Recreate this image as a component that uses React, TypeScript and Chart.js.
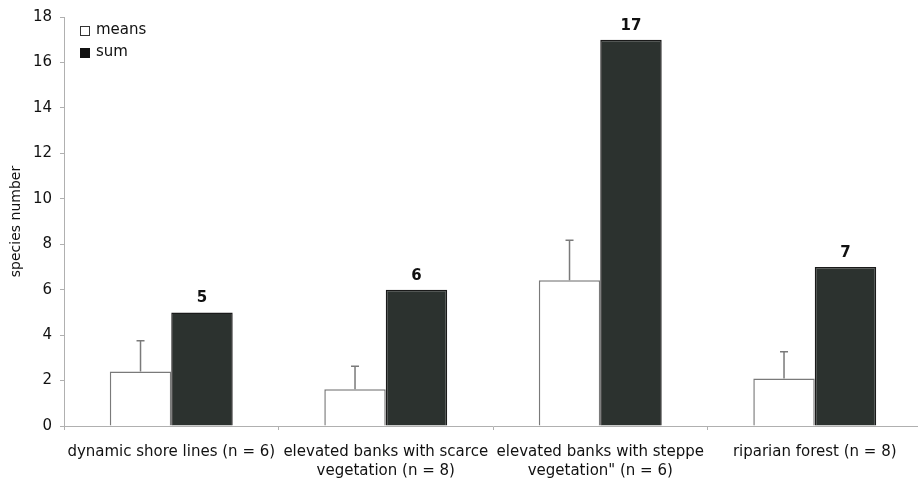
import React, { useEffect, useRef } from "react";
import { Chart, registerables } from "chart.js";

Chart.register(...registerables);

const categories: string[][] = [
  ["dynamic shore lines (n = 6)"],
  ["elevated banks with scarce", "vegetation (n = 8)"],
  ["elevated banks with steppe", "vegetation\" (n = 6)"],
  ["riparian forest (n = 8)"],
];
const meansValues = [2.4, 1.62, 6.41, 2.09];
const meansErrorTop = [3.75, 2.63, 8.18, 3.27];
const sumValues = [5, 6, 17, 7];
const yTicks = [0, 2, 4, 6, 8, 10, 12, 14, 16, 18];

const FONT = "'DejaVu Sans', sans-serif";

const overlayPlugin = {
  id: "overlay",
  afterDatasetsDraw(chart: any) {
    const ctx = chart.ctx;
    const y = chart.scales.y;
    const metaMeans = chart.getDatasetMeta(0);
    ctx.save();
    ctx.strokeStyle = "#7a7a7a";
    ctx.lineWidth = 1.5;
    metaMeans.data.forEach((bar: any, i: number) => {
      const x = bar.x;
      const y0 = y.getPixelForValue(meansValues[i]);
      const y1 = y.getPixelForValue(meansErrorTop[i]);
      ctx.beginPath();
      ctx.moveTo(x, y0);
      ctx.lineTo(x, y1);
      ctx.moveTo(x - 4, y1);
      ctx.lineTo(x + 4, y1);
      ctx.stroke();
    });
    const metaSum = chart.getDatasetMeta(1);
    ctx.fillStyle = "#111";
    ctx.font = `bold 15px ${FONT}`;
    ctx.textAlign = "center";
    ctx.textBaseline = "alphabetic";
    metaSum.data.forEach((bar: any, i: number) => {
      ctx.fillText(String(sumValues[i]), bar.x, bar.y - 10);
    });
    const lx = chart.chartArea.left + 16;
    const ly = chart.chartArea.top + 9;
    ctx.lineWidth = 1;
    ctx.strokeStyle = "#333";
    ctx.fillStyle = "#fff";
    ctx.fillRect(lx, ly, 9, 9);
    ctx.strokeRect(lx + 0.5, ly + 0.5, 9, 9);
    ctx.fillStyle = "#111";
    ctx.fillRect(lx, ly + 22, 10, 10);
    ctx.font = `15px ${FONT}`;
    ctx.textAlign = "left";
    ctx.textBaseline = "middle";
    ctx.fillText("means", lx + 16, ly + 4);
    ctx.fillText("sum", lx + 16, ly + 26);
    ctx.restore();
  },
};

export default function App() {
  const ref = useRef<HTMLCanvasElement>(null);
  useEffect(() => {
    if (!ref.current) return;
    const chart = new Chart(ref.current, {
      type: "bar",
      data: {
        labels: categories,
        datasets: [
          {
            label: "means",
            data: meansValues,
            backgroundColor: "#ffffff",
            borderColor: "#7a7a7a",
            borderWidth: 1.5,
            categoryPercentage: 0.573,
            barPercentage: 1.0,
          },
          {
            label: "sum",
            data: sumValues,
            backgroundColor: "#2c322f",
            borderColor: "#1a1a1a",
            borderWidth: 1.5,
            categoryPercentage: 0.573,
            barPercentage: 1.0,
          },
        ],
      },
      options: {
        responsive: false,
        animation: false,
        layout: { padding: { top: 15, right: 4, left: 4, bottom: 0 } },
        plugins: {
          legend: { display: false },
          tooltip: { enabled: false },
        },
        scales: {
          x: {
            afterFit: (axis: any) => {
              axis.height = 479 - 426;
            },
            border: { color: "#b0b0b0", width: 1 },
            grid: {
              offset: true,
              drawOnChartArea: false,
              drawTicks: true,
              tickLength: 4,
              color: "#b0b0b0",
            },
            ticks: {
              color: "#111",
              font: { family: FONT, size: 15, lineHeight: 1.3 },
              maxRotation: 0,
              autoSkip: false,
              padding: 12,
            },
          },
          y: {
            min: 0,
            max: 18,
            afterFit: (axis: any) => {
              axis.width = 60;
            },
            afterBuildTicks: (axis: any) => {
              axis.ticks = yTicks.map((v) => ({ value: v }));
            },
            border: { color: "#b0b0b0", width: 1 },
            grid: {
              drawOnChartArea: false,
              drawTicks: true,
              tickLength: 4,
              color: "#b0b0b0",
            },
            ticks: {
              color: "#111",
              font: { family: FONT, size: 15 },
              padding: 8,
            },
            title: {
              display: true,
              text: "species number",
              color: "#111",
              font: { family: FONT, size: 14 },
              padding: { top: 4, bottom: 0 },
            },
          },
        },
      },
      plugins: [overlayPlugin],
    });
    return () => chart.destroy();
  }, []);
  return (
    <div style={{ position: "fixed", left: 0, top: 0, width: 918, height: 479, overflow: "hidden", background: "#fff" }}>
      <canvas ref={ref} width={926} height={479} style={{ display: "block" }} />
    </div>
  );
}
